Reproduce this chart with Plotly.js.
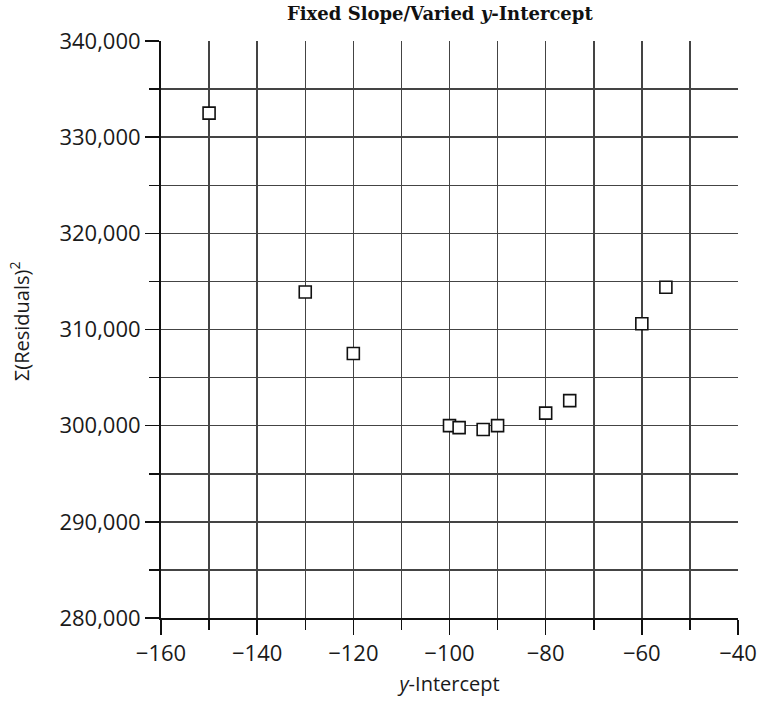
<!DOCTYPE html>
<html>
<head>
<meta charset="utf-8">
<script src="https://cdn.plot.ly/plotly-3.0.1.min.js"></script>
<style>html,body{margin:0;padding:0;background:#fff;}#chart{width:761px;height:704px;}</style>
</head>
<body>
<div id="chart"></div>
<script>
// y-intercept values tried
const intercepts = [-150, -130, -120, -100, -98, -93, -90, -80, -75, -60, -55];
// sum of squared residuals
const sumSqResiduals = [332500, 313900, 307500, 300000, 299800, 299600, 300000, 301300, 302600, 310600, 314400];
const yTickVals = [280000, 290000, 300000, 310000, 320000, 330000, 340000];
const yTickText = ['280,000', '290,000', '300,000', '310,000', '320,000', '330,000', '340,000'];

const trace = {
  x: intercepts,
  y: sumSqResiduals,
  type: 'scatter',
  mode: 'markers',
  marker: {symbol: 'square', size: 12, color: '#ffffff', line: {color: '#111', width: 1.6}},
  cliponaxis: false,
  hoverinfo: 'skip'
};

const tickFont = {family: '"Open Sans", "Noto Sans", sans-serif', size: 22, color: '#1a1a1a'};
const titleFont = {family: '"Open Sans", "Noto Sans", sans-serif', size: 20, color: '#1a1a1a'};

const layout = {
  width: 761, height: 704,
  paper_bgcolor: '#fff', plot_bgcolor: '#fff',
  margin: {l: 161, r: 23, t: 41, b: 86},
  showlegend: false,
  title: {
    text: 'Fixed Slope/Varied <i>y</i>-Intercept',
    font: {family: '"DejaVu Serif", serif', size: 18, color: '#111', weight: 900},
    x: 0.578, xanchor: 'center', y: 0.98, yanchor: 'middle'
  },
  xaxis: {
    range: [-160, -40], dtick: 20, tick0: -160,
    showgrid: true, gridcolor: '#444', gridwidth: 1.5,
    zeroline: false,
    showline: true, linecolor: '#111', linewidth: 2,
    ticks: 'outside', ticklen: 15, tickwidth: 1.5, tickcolor: '#111',
    minor: {dtick: 10, tick0: -160, ticks: 'outside', ticklen: 10, tickwidth: 1.5, tickcolor: '#111', showgrid: true, gridcolor: '#444', gridwidth: 1.5},
    tickfont: tickFont,
    title: {text: '<i>y</i>-Intercept', font: titleFont, standoff: 11},
    fixedrange: true
  },
  yaxis: {
    range: [280000, 340000],
    tickvals: yTickVals, ticktext: yTickText,
    showgrid: true, gridcolor: '#444', gridwidth: 1.5,
    zeroline: false,
    showline: true, linecolor: '#111', linewidth: 2,
    ticks: 'outside', ticklen: 14, tickwidth: 1.5, tickcolor: '#111',
    minor: {dtick: 5000, tick0: 280000, ticks: 'outside', ticklen: 10, tickwidth: 1.5, tickcolor: '#111', showgrid: true, gridcolor: '#444', gridwidth: 1.5},
    tickfont: tickFont,
    fixedrange: true
  },
  annotations: [{
    text: 'Σ(Residuals)<sup>2</sup>',
    xref: 'paper', yref: 'paper',
    x: -0.245, y: 0.514, xanchor: 'center', yanchor: 'middle',
    textangle: -90, showarrow: false,
    font: titleFont
  }]
};

Plotly.newPlot('chart', [trace], layout, {displayModeBar: false, staticPlot: true});
</script>
</body>
</html>
